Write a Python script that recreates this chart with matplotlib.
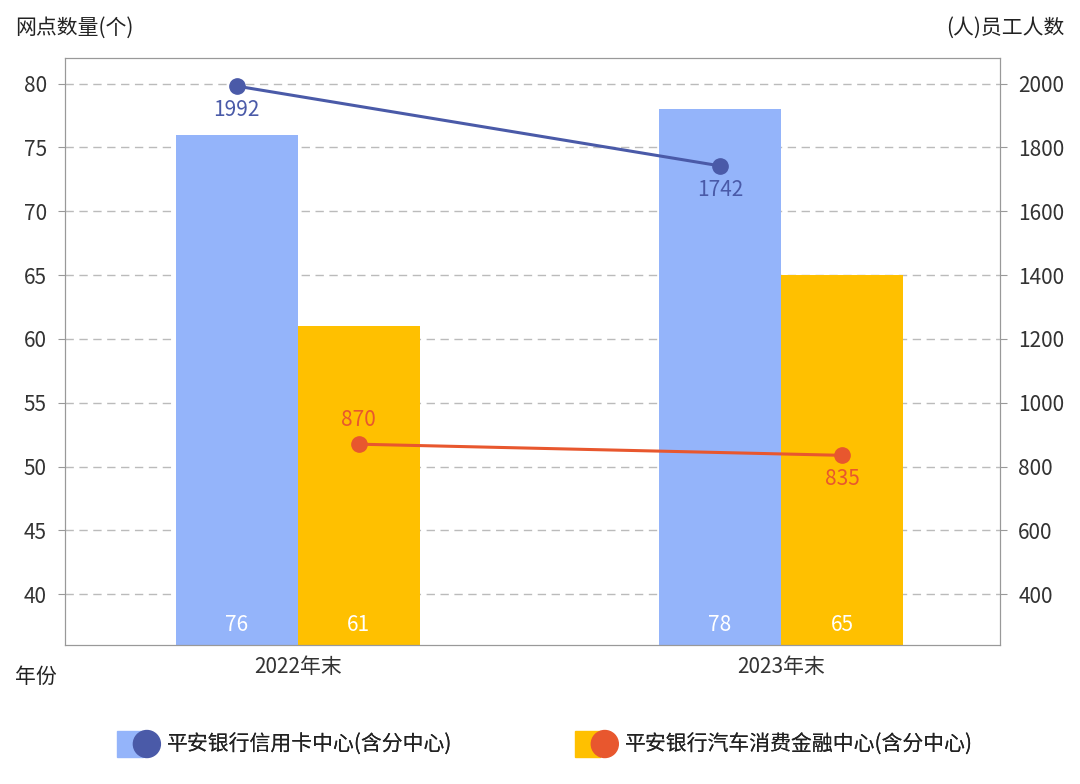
import matplotlib
matplotlib.use("Agg")
import matplotlib.pyplot as plt
from matplotlib.patches import Rectangle, Circle

plt.rcParams["font.family"] = "Noto Sans CJK SC"

categories = ["2022年末", "2023年末"]
branches_credit = [76, 78]
branches_auto = [61, 65]
staff_credit = [1992, 1742]
staff_auto = [870, 835]
left_ticks = [40, 45, 50, 55, 60, 65, 70, 75, 80]
right_ticks = [400, 600, 800, 1000, 1200, 1400, 1600, 1800, 2000]

BLUE_BAR = "#94B4FA"; YEL = "#FFC000"; DBLUE = "#4A5AA8"; ORG = "#E8572E"
GRAY = "#555555"

fig = plt.figure(figsize=(10.8, 7.84), dpi=100)
ax = fig.add_axes([0.060, 0.177, 0.866, 0.749])
ax2 = ax.twinx()
w = 0.2526
x = range(len(categories))
for i in x:
    ax.bar(i - w/2, branches_credit[i], width=w, color=BLUE_BAR, zorder=2)
    ax.bar(i + w/2, branches_auto[i], width=w, color=YEL, zorder=2)
    ax.text(i - w/2, 36.7, str(branches_credit[i]), color="white", ha="center", va="bottom", fontsize=15)
    ax.text(i + w/2, 36.7, str(branches_auto[i]), color="white", ha="center", va="bottom", fontsize=15)
ax.set_ylim(36, 82)
ax.set_xlim(-0.482, 1.453)
ax.set_yticks(left_ticks)
ax.grid(axis="y", linestyle=(0, (6, 4)), color="#BBBBBB", linewidth=1, zorder=0)
ax.set_axisbelow(True)
ax.set_xticks(list(x))
ax.set_xticklabels(categories, fontsize=15, color="#333333")

ax2.set_ylim(240, 2080)
ax2.set_yticks(right_ticks)
xc = [i - w/2 for i in x]; xa = [i + w/2 for i in x]
ax2.plot(xc, staff_credit, color=DBLUE, lw=2.2, marker="o", ms=11, zorder=5)
ax2.plot(xa, staff_auto, color=ORG, lw=2.2, marker="o", ms=11, zorder=5)
ax2.text(xc[0], staff_credit[0] - 40, str(staff_credit[0]), color=DBLUE, ha="center", va="top", fontsize=15)
ax2.text(xc[1], staff_credit[1] - 40, str(staff_credit[1]), color=DBLUE, ha="center", va="top", fontsize=15)
ax2.text(xa[0], staff_auto[0] + 40, str(staff_auto[0]), color=ORG, ha="center", va="bottom", fontsize=15)
ax2.text(xa[1], staff_auto[1] - 40, str(staff_auto[1]), color=ORG, ha="center", va="top", fontsize=15)

for a in (ax, ax2):
    for s in a.spines.values():
        s.set_color("#999999")
    a.tick_params(labelsize=15, colors="#333333", length=0, pad=8)
    a.tick_params(axis="y", colors="#999999", labelcolor="#333333")
ax.tick_params(axis="y", length=5)
ax2.tick_params(axis="y", length=5)

fig.text(0.014, 0.965, "网点数量(个)", fontsize=15, color="#222222", va="center")
fig.text(0.986, 0.965, "(人)员工人数", fontsize=15, color="#222222", va="center", ha="right")
fig.text(0.014, 0.136, "年份", fontsize=15, color="#222222", va="center")

# legend
def leg(xr, col_r, col_c, label):
    y = 0.051
    fig.patches.append(Rectangle((xr, y - 0.016), 0.024, 0.032, transform=fig.transFigure, color=col_r))
    fig.patches.append(Circle((xr + 0.028, y), 0.0125, transform=fig.transFigure, color=col_c))
    fig.texts.append(fig.text(xr + 0.047, y, label, fontsize=15, color="#222222", va="center"))
fig.patches.clear()
leg(0.108, BLUE_BAR, DBLUE, "平安银行信用卡中心(含分中心)")
leg(0.532, YEL, ORG, "平安银行汽车消费金融中心(含分中心)")
# circles need aspect correction
for p in fig.patches:
    if isinstance(p, Circle):
        p.set_transform(fig.dpi_scale_trans)
        cx, cy = p.center
        p.center = (cx * 10.8, cy * 7.84)
        p.set_radius(0.0125 * 10.8)

fig.savefig("out.png", dpi=100)
